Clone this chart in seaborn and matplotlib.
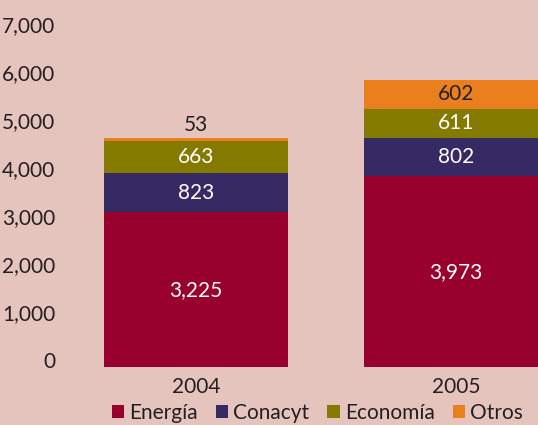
"""Stacked bar chart: budget by source, 2004 vs 2005."""

import matplotlib
matplotlib.use("Agg")
import matplotlib.pyplot as plt
import matplotlib.transforms as mtransforms
from matplotlib.patches import Patch
from matplotlib.ticker import FuncFormatter
import numpy as np
import pandas as pd
import seaborn as sns

years = ["2004", "2005"]
sources = ["Energía", "Conacyt", "Economía", "Otros"]
energia = [3225, 3973]
conacyt = [823, 802]
economia = [663, 611]
otros = [53, 602]

colors = ["#98002e", "#352a63", "#857a00", "#ea7f1e"]
label_colors = ["white", "white", "white", "#231f20"]
bg = "#e6c4be"
dark = "#231f20"

sns.set_theme(style="white")
plt.rcParams["font.family"] = ["Lato", "DejaVu Sans"]

values = np.array([energia, conacyt, economia, otros])
tops = values.cumsum(axis=0)

fig = plt.figure(figsize=(5.38, 4.25), dpi=100, facecolor=bg)
ax = fig.add_axes([62 / 538, 58 / 425, 476 / 538, 367 / 425])
ax.set_facecolor(bg)

# draw cumulative bars from the top layer down so each one covers the next
for i in reversed(range(len(sources))):
    df = pd.DataFrame({"year": years, "total": tops[i]})
    sns.barplot(data=df, x="year", y="total", color=colors[i],
                width=0.71, saturation=1, linewidth=0, edgecolor="none",
                ax=ax, zorder=2)

for j in range(len(years)):
    for i in range(len(sources)):
        v = values[i, j]
        mid = tops[i, j] - v / 2
        if v < 200:
            ax.text(j, tops[i, j] + 280, f"{v:,}", ha="center", va="center",
                    color=dark, fontsize=15)
        else:
            ax.text(j, mid, f"{v:,}", ha="center", va="center",
                    color=label_colors[i], fontsize=15)

ax.set_xlim(-0.515, 1.315)
ax.set_ylim(0, 7650)
ax.set_yticks(range(0, 7001, 1000))
ax.yaxis.set_major_formatter(FuncFormatter(lambda v, p: f"{int(v):,}"))
ax.set_xlabel("")
ax.set_ylabel("")
ax.tick_params(axis="both", length=0, labelsize=15, colors=dark)
ax.tick_params(axis="y", pad=5)
ax.tick_params(axis="x", pad=7)
for s in ax.spines.values():
    s.set_visible(False)

offset = mtransforms.ScaledTranslation(0, 7 / 100, fig.dpi_scale_trans)
for lab in ax.get_yticklabels():
    lab.set_transform(lab.get_transform() + offset)

handles = [Patch(facecolor=c, edgecolor="none") for c in colors]
fig.legend(handles, sources, loc="center", bbox_to_anchor=(0.59, 0.028),
           ncol=4, frameon=False, fontsize=15, handlelength=0.6,
           handleheight=0.6, handletextpad=0.25, columnspacing=0.85,
           labelcolor=dark)

fig.savefig("out.png", dpi=100, facecolor=bg)
plt.close(fig)
